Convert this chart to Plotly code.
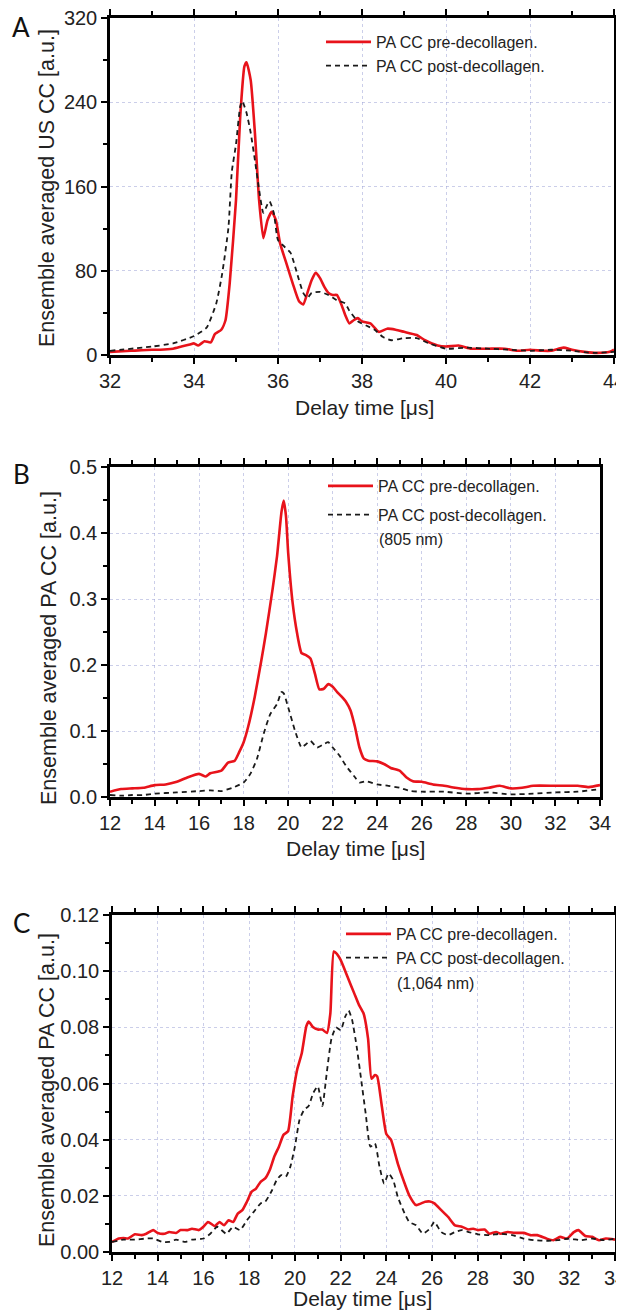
import plotly.graph_objects as go

# The page body adds an 8 px margin, so the figure is sized to fill the rest of the 624x1311 window
PAGE_W, PAGE_H, BODY = 624, 1311, 8
W, H = PAGE_W - BODY, PAGE_H - BODY

# ---------------- Data ----------------
# Panel A: ultrasound CC
a_pre_t = [32.0, 32.5, 33.0, 33.2, 33.5, 33.7, 33.9, 34.0, 34.1, 34.25, 34.4, 34.5, 34.65, 34.75, 34.85,
           35.0, 35.1, 35.2, 35.25, 35.35, 35.45, 35.55, 35.65, 35.75, 35.85, 35.95, 36.05, 36.2, 36.35,
           36.5, 36.6, 36.7, 36.8, 36.9, 37.0, 37.1, 37.2, 37.3, 37.4, 37.5, 37.6, 37.7, 37.8, 37.9,
           38.0, 38.2, 38.4, 38.6, 38.8, 39.0, 39.3, 39.5, 39.8, 40.0, 40.3, 40.6, 41.0, 41.4, 41.7,
           42.0, 42.3, 42.5, 42.8, 43.0, 43.3, 43.6, 43.9, 44.0]
a_pre_v = [3, 4, 5, 5, 6, 8, 10, 11, 9, 13, 12, 20, 24, 33, 68,
           147, 226, 274, 278, 261, 211, 147, 111, 128, 136, 128, 106, 87, 68,
           51, 48, 59, 71, 78, 73, 65, 59, 57, 57, 49, 38, 30, 33, 35,
           32, 30, 22, 25, 24, 22, 19, 14, 9, 8, 9, 6, 6, 6, 4,
           5, 4, 4, 7, 5, 3, 2, 3, 5]
a_post_t = [32.0, 33.0, 33.5, 34.0, 34.3, 34.53, 34.67, 34.82, 34.9, 35.0, 35.1, 35.15, 35.25, 35.35,
            35.45, 35.55, 35.65, 35.75, 35.8, 35.9, 36.0, 36.15, 36.3, 36.45, 36.6, 36.7, 36.8, 37.0,
            37.2, 37.4, 37.6, 37.7, 37.9, 38.1, 38.3, 38.5, 38.7, 39.0, 39.3, 39.6, 40.0, 40.5, 41.0,
            41.5, 42.0, 42.5, 43.0, 43.5, 44.0]
a_post_v = [4, 8, 11, 18, 26, 49, 77, 121, 174, 200, 236, 241, 230, 211,
            185, 157, 135, 143, 146, 135, 109, 103, 97, 78, 59, 54, 59, 60,
            57, 52, 49, 42, 32, 28, 24, 17, 14, 16, 16, 11, 6, 7, 6,
            5, 4, 5, 4, 2, 3]

# Panel B: PA CC, 805 nm
b_pre_t = [12.0, 12.5, 13.0, 13.5, 14.0, 14.5, 15.0, 15.5, 16.0, 16.3, 16.5, 17.0, 17.3, 17.6, 17.8,
           18.0, 18.2, 18.5, 18.8, 19.0, 19.3, 19.5, 19.7, 19.8, 19.9, 20.0, 20.2, 20.4, 20.6, 20.8,
           21.0, 21.2, 21.4, 21.6, 21.8, 22.0, 22.2, 22.4, 22.6, 22.8, 23.0, 23.2, 23.4, 23.6, 24.0,
           24.3, 24.6, 25.0, 25.3, 25.6, 26.0, 26.5, 27.0, 27.5, 28.0, 28.5, 29.0, 29.5, 30.0, 30.5,
           31.0, 32.0, 33.0, 33.5, 34.0]
b_pre_v = [0.008, 0.012, 0.013, 0.014, 0.018, 0.019, 0.023, 0.030, 0.035, 0.031, 0.036, 0.040, 0.052, 0.055, 0.068,
           0.083, 0.106, 0.152, 0.208, 0.248, 0.315, 0.365, 0.432, 0.449, 0.426, 0.370, 0.294, 0.248, 0.218, 0.215,
           0.210, 0.187, 0.163, 0.164, 0.171, 0.167, 0.159, 0.152, 0.144, 0.131, 0.106, 0.075, 0.058, 0.055, 0.054,
           0.050, 0.044, 0.040, 0.030, 0.024, 0.023, 0.019, 0.017, 0.014, 0.012, 0.012, 0.014, 0.017, 0.013, 0.014,
           0.017, 0.017, 0.017, 0.015, 0.018]
b_post_t = [12.0, 12.5, 13.0, 13.5, 14.0, 15.0, 16.0, 16.5, 17.0, 17.5, 18.0, 18.3, 18.6, 18.9, 19.2,
            19.5, 19.7, 19.8, 20.0, 20.3, 20.6, 20.8, 21.0, 21.3, 21.6, 21.8, 22.0, 22.3, 22.6, 23.0,
            23.2, 23.5, 24.0, 24.5, 25.0, 25.5, 26.0, 27.0, 28.0, 29.0, 30.0, 31.0, 32.0, 33.0, 34.0]
b_post_v = [0.003, 0.002, 0.003, 0.003, 0.005, 0.007, 0.009, 0.010, 0.009, 0.014, 0.022, 0.035, 0.058, 0.096, 0.126,
            0.141, 0.159, 0.157, 0.136, 0.101, 0.075, 0.080, 0.085, 0.075, 0.080, 0.083, 0.075, 0.063, 0.047, 0.030,
            0.022, 0.024, 0.019, 0.017, 0.014, 0.009, 0.008, 0.008, 0.005, 0.007, 0.004, 0.005, 0.007, 0.008, 0.012]

# Panel C: PA CC, 1,064 nm
c_pre_t = [12.0, 12.3, 12.5, 12.7, 13.0, 13.3, 13.5, 13.8, 14.0, 14.3, 14.5, 14.8, 15.0, 15.3, 15.5, 15.8,
           16.0, 16.2, 16.5, 16.7, 16.9, 17.1, 17.3, 17.5, 17.7, 17.9, 18.1, 18.3, 18.5, 18.7, 18.9,
           19.1, 19.3, 19.5, 19.7, 19.9, 20.1, 20.3, 20.5, 20.6, 20.8, 21.0, 21.2, 21.4, 21.55, 21.7,
           21.85, 22.0, 22.3, 22.6, 22.8, 23.0, 23.2, 23.35, 23.5, 23.6, 23.8, 24.0, 24.2, 24.5, 24.8,
           25.0, 25.3, 25.7, 25.9, 26.1, 26.4, 26.7, 27.0, 27.3, 27.6, 27.8, 28.0, 28.3, 28.5, 28.8,
           29.0, 29.3, 29.6, 30.0, 30.3, 30.6, 31.0, 31.3, 31.6, 31.9, 32.2, 32.4, 32.7, 33.0, 33.3,
           33.6, 34.0]
c_pre_v = [0.0036, 0.0048, 0.0050, 0.0048, 0.0063, 0.0060, 0.0065, 0.0078, 0.0068, 0.0065, 0.0071, 0.0068,
           0.0078, 0.0078, 0.0083, 0.0078, 0.0090, 0.0107, 0.0092, 0.0107, 0.0095, 0.0113, 0.0107, 0.0137,
           0.0149, 0.0179, 0.0214, 0.0226, 0.0250, 0.0262, 0.0292, 0.0340, 0.0375, 0.0417, 0.0430, 0.0554,
           0.0650, 0.0708, 0.0804, 0.0821, 0.0800, 0.0792, 0.0792, 0.0780, 0.0850, 0.1070, 0.1060, 0.1040,
           0.0980, 0.0920, 0.0880, 0.0850, 0.0760, 0.0617, 0.0630, 0.0625, 0.0520, 0.0420, 0.0400, 0.0315,
           0.0244, 0.0202, 0.0167, 0.0179, 0.0180, 0.0173, 0.0149, 0.0125, 0.0095, 0.0090, 0.0080, 0.0083,
           0.0078, 0.0080, 0.0065, 0.0071, 0.0065, 0.0071, 0.0068, 0.0068, 0.0060, 0.0060, 0.0048, 0.0042,
           0.0054, 0.0048, 0.0071, 0.0078, 0.0057, 0.0054, 0.0042, 0.0048, 0.0044]
c_post_t = [12.0, 12.5, 13.0, 13.5, 13.8, 14.2, 14.5, 14.8, 15.2, 15.5, 16.0, 16.3, 16.6, 17.0, 17.3,
            17.6, 17.9, 18.2, 18.5, 18.7, 19.0, 19.2, 19.4, 19.6, 19.8, 20.0, 20.2, 20.4, 20.6, 20.8,
            21.0, 21.2, 21.4, 21.6, 21.8, 22.0, 22.2, 22.35, 22.5, 22.7, 22.9, 23.1, 23.3, 23.5, 23.7,
            23.9, 24.1, 24.3, 24.5, 24.8, 25.0, 25.3, 25.6, 25.9, 26.1, 26.4, 26.7, 27.0, 27.3, 27.6,
            28.0, 28.5, 29.0, 29.5, 30.0, 30.5, 31.0, 31.5, 32.0, 32.5, 33.0, 33.5, 34.0]
c_post_v = [0.0036, 0.0044, 0.0044, 0.0048, 0.0048, 0.0036, 0.0036, 0.0044, 0.0036, 0.0044, 0.0048, 0.0065,
            0.0090, 0.0065, 0.0090, 0.0078, 0.0113, 0.0143, 0.0173, 0.0179, 0.0220, 0.0256, 0.0274, 0.0268,
            0.0304, 0.0375, 0.0470, 0.0506, 0.0520, 0.0566, 0.0590, 0.0520, 0.0643, 0.0760, 0.0800, 0.0790,
            0.0838, 0.0860, 0.0827, 0.0732, 0.0613, 0.0490, 0.0375, 0.0387, 0.0304, 0.0244, 0.0280, 0.0256,
            0.0196, 0.0137, 0.0107, 0.0095, 0.0065, 0.0083, 0.0107, 0.0071, 0.0060, 0.0071, 0.0078, 0.0071,
            0.0063, 0.0060, 0.0065, 0.0060, 0.0048, 0.0042, 0.0040, 0.0042, 0.0048, 0.0042, 0.0048, 0.0042,
            0.0048]

pre_name = "PA CC pre-decollagen."
post_name = "PA CC post-decollagen."
x_title = "Delay time [μs]"
y_titles = ["Ensemble averaged US CC [a.u.]", "Ensemble averaged PA CC [a.u.]", "Ensemble averaged PA CC [a.u.]"]
panel_letters = ["A", "B", "C"]
wavelength_notes = ["(805 nm)", "(1,064 nm)"]

# ---------------- Styling ----------------
FONT = "Liberation Sans, Arial, sans-serif"
RED = "#e8131b"
BLACK = "#1a1a1a"


def px(x):
    """page pixel x -> paper fraction"""
    return (x - BODY) / W


def py(y):
    """page pixel y -> paper fraction"""
    return 1 - (y - BODY) / H


fig = go.Figure()

panels = [
    (a_pre_t, a_pre_v, a_post_t, a_post_v, "x", "y", "legend"),
    (b_pre_t, b_pre_v, b_post_t, b_post_v, "x2", "y2", "legend2"),
    (c_pre_t, c_pre_v, c_post_t, c_post_v, "x3", "y3", "legend3"),
]
for i, (pt, pv, qt, qv, xa, ya, lg) in enumerate(panels):
    fig.add_trace(go.Scatter(x=pt, y=pv, mode="lines", name=pre_name, xaxis=xa, yaxis=ya,
                             legend=lg, legendgroup=f"g{i}a",
                             line=dict(color=RED, width=2.6, shape="spline", smoothing=0.5)))
    fig.add_trace(go.Scatter(x=qt, y=qv, mode="lines", name=post_name, xaxis=xa, yaxis=ya,
                             legend=lg, legendgroup=f"g{i}b",
                             line=dict(color=BLACK, width=1.8, dash="5px,4px", shape="spline", smoothing=0.5)))

axis_common = dict(
    showline=True, linecolor="black", linewidth=2.5,
    ticks="outside", tickcolor="black", tickwidth=2, ticklen=6,
    showgrid=True, gridcolor="rgba(160,165,215,0.55)", griddash="dot", gridwidth=1,
    zeroline=False, automargin=False, ticklabeloverflow="allow",
    tickfont=dict(family=FONT, size=20, color="#222"),
)

# Page-pixel frames of the three plot areas: (left, right, top, bottom)
frames = [(110, 614, 18, 355), (110, 600, 467, 797), (112, 615, 915, 1252)]
xranges = [[32, 44], [12, 34], [12, 34]]
yranges = [[0, 320], [0, 0.5], [0, 0.12]]
ydticks = [80, 0.1, 0.02]
yformats = ["d", ".1f", ".2f"]

layout = dict(
    width=W, height=H, margin=dict(l=0, r=0, t=0, b=0, pad=0, autoexpand=False),
    paper_bgcolor="white", plot_bgcolor="white",
    font=dict(family=FONT, color="#222"),
)
for i in range(3):
    l, r, t, b = frames[i]
    sx = "" if i == 0 else str(i + 1)
    layout["xaxis" + sx] = dict(
        axis_common, domain=[px(l), px(r)], range=xranges[i], dtick=2, tick0=0,
        anchor="y" + sx, mirror="ticks",
        minor=dict(ticks="outside", ticklen=4, tickwidth=2, tickcolor="black", dtick=1, showgrid=False),
    )
    layout["yaxis" + sx] = dict(
        axis_common, domain=[py(b), py(t)], range=yranges[i], dtick=ydticks[i], tick0=0,
        tickformat=yformats[i], anchor="x" + sx, mirror=True,
        minor=dict(ticks="outside", ticklen=4, tickwidth=2, tickcolor="black",
                   dtick=ydticks[i] / 2, showgrid=False),
    )

legend_pos = [(321, 25, 0), (323, 469, 5), (341, 917, 0)]
for i, (lx, ly, gap) in enumerate(legend_pos):
    key = "legend" if i == 0 else f"legend{i + 1}"
    layout[key] = dict(
        x=px(lx), y=py(ly), xanchor="left", yanchor="top",
        bgcolor="rgba(0,0,0,0)", borderwidth=0, itemwidth=45,
        traceorder="grouped", tracegroupgap=gap,
        font=dict(family=FONT, size=16, color="#222"),
    )

fig.update_layout(**layout)

annotations = []
# Axis titles
x_title_pos = [(364, 408), (355, 848), (362, 1298)]
y_title_pos = [(47, 188), (49, 648), (47, 1090)]
for i in range(3):
    xt, yt = x_title_pos[i]
    annotations.append(dict(text=x_title, x=px(xt), y=py(yt), xref="paper", yref="paper",
                            showarrow=False, xanchor="center", yanchor="middle",
                            font=dict(family=FONT, size=21, color="#222")))
    xy, yy = y_title_pos[i]
    annotations.append(dict(text=y_titles[i], x=px(xy), y=py(yy), xref="paper", yref="paper",
                            showarrow=False, textangle=-90, xanchor="center", yanchor="middle",
                            font=dict(family=FONT, size=21.5, color="#222")))
# Panel letters
letter_pos = [(21, 27), (21, 474), (21, 923)]
for i, (lx, ly) in enumerate(letter_pos):
    annotations.append(dict(text=panel_letters[i], x=px(lx), y=py(ly), xref="paper", yref="paper",
                            showarrow=False, xanchor="center", yanchor="middle",
                            font=dict(family="Lato, sans-serif", size=26, color="#111")))
# Wavelength notes
note_pos = [(377, 539), (395, 983)]
for i, (nx, ny) in enumerate(note_pos):
    annotations.append(dict(text=wavelength_notes[i], x=px(nx), y=py(ny), xref="paper", yref="paper",
                            showarrow=False, xanchor="left", yanchor="middle",
                            font=dict(family=FONT, size=16, color="#222")))
fig.update_layout(annotations=annotations)

fig.write_html("out.html")
